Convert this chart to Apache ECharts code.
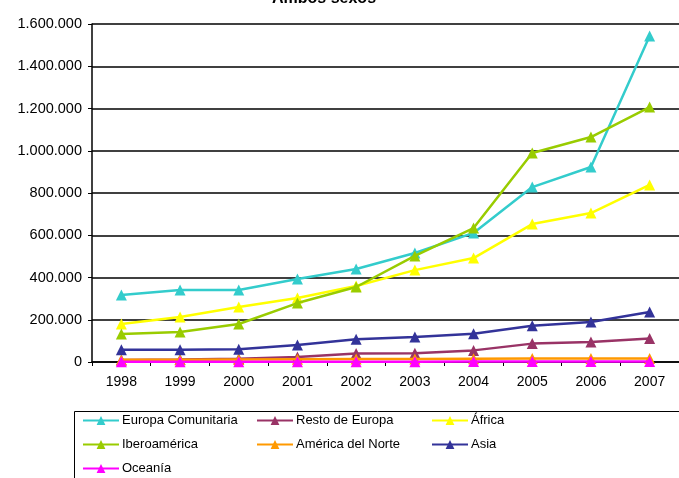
<!DOCTYPE html>
<html>
<head>
<meta charset="utf-8">
<script src="https://cdn.jsdelivr.net/npm/echarts@6/dist/echarts.min.js"></script>
<style>
html,body{margin:0;padding:0;background:#fff;}
#chart{width:679px;height:478px;}
</style>
</head>
<body>
<div id="chart"></div>
<script>
const years = ['1998','1999','2000','2001','2002','2003','2004','2005','2006','2007'];
const europaComunitaria = [317000, 341000, 341000, 393000, 440000, 516000, 611000, 828000, 923000, 1543000];
const restoEuropa = [10000, 12000, 15000, 24000, 40000, 41000, 55000, 87000, 95000, 111000];
const africa = [180000, 213000, 260000, 303000, 360000, 435000, 492000, 653000, 705000, 838000];
const iberoamerica = [133000, 142000, 180000, 279000, 355000, 502000, 634000, 989000, 1065000, 1207000];
const americaNorte = [11000, 11000, 12000, 13000, 14000, 14000, 15000, 16000, 16000, 17000];
const asia = [58000, 58000, 60000, 80000, 108000, 118000, 134000, 172000, 189000, 237000];
const oceania = [1000, 1000, 1000, 1500, 1500, 1500, 2000, 2000, 2000, 2000];

const seriesNames = ['Europa Comunitaria','Resto de Europa','África','Iberoamérica','América del Norte','Asia','Oceanía'];
const seriesData = [europaComunitaria, restoEuropa, africa, iberoamerica, americaNorte, asia, oceania];
const seriesColors = ['#33CCCC','#993366','#FFFF00','#99CC00','#FF9900','#333399','#FF00FF'];

function fmt(v){ return String(v).replace(/\B(?=(\d{3})+(?!\d))/g, '.'); }

const FONT = 'Liberation Sans, Arial, sans-serif';

const chart = echarts.init(document.getElementById('chart'), null, {renderer:'canvas'});

const legendBase = {
  orient: 'vertical',
  itemWidth: 36,
  itemHeight: 11,
  itemGap: 11,
  textStyle: {fontFamily: FONT, fontSize: 13, color: '#000', padding: [0,0,0,-2]},
  padding: 0
};

chart.setOption({
  animation: false,
  backgroundColor: '#fff',
  title: {
    text: 'Ambos sexos',
    left: 272, top: -9,
    padding: 0,
    textStyle: {fontFamily: FONT, fontSize: 16, fontWeight: 'bold', color: '#000'}
  },
  graphic: [{
    type: 'rect', left: 72, top: 409,
    shape: {width: 640, height: 90},
    style: {fill: 'none', stroke: '#000', lineWidth: 1}
  }],
  legend: [
    Object.assign({left: 82, top: 414, data: ['Europa Comunitaria','Iberoamérica','Oceanía']}, legendBase),
    Object.assign({left: 256, top: 414, data: ['Resto de Europa','América del Norte']}, legendBase),
    Object.assign({left: 431, top: 414, data: ['África','Asia']}, legendBase)
  ],
  grid: {left: 92, top: 24, right: -7, bottom: 116, containLabel: false},
  xAxis: {
    type: 'category',
    data: years,
    boundaryGap: true,
    axisLine: {lineStyle: {color: '#000', width: 1.5}},
    axisTick: {show: true, inside: false, length: 4, lineStyle: {color: '#000'}},
    axisLabel: {fontFamily: FONT, fontSize: 14, color: '#000', margin: 13}
  },
  yAxis: {
    type: 'value',
    min: 0, max: 1600000, interval: 200000,
    axisLine: {show: true, lineStyle: {color: '#000', width: 1.5}},
    axisTick: {show: true, length: 4, lineStyle: {color: '#000'}},
    splitLine: {lineStyle: {color: '#000', width: 1.5}},
    axisLabel: {fontFamily: FONT, fontSize: 14.5, color: '#000', margin: 10, formatter: v => fmt(v)}
  },
  series: seriesNames.map((n, i) => ({
    name: n,
    type: 'line',
    data: seriesData[i],
    color: seriesColors[i],
    symbol: 'triangle',
    symbolSize: 11,
    lineStyle: {width: 2.5, color: seriesColors[i]},
    itemStyle: {color: seriesColors[i]},
    z: 2 + i
  }))
});
</script>
</body>
</html>
